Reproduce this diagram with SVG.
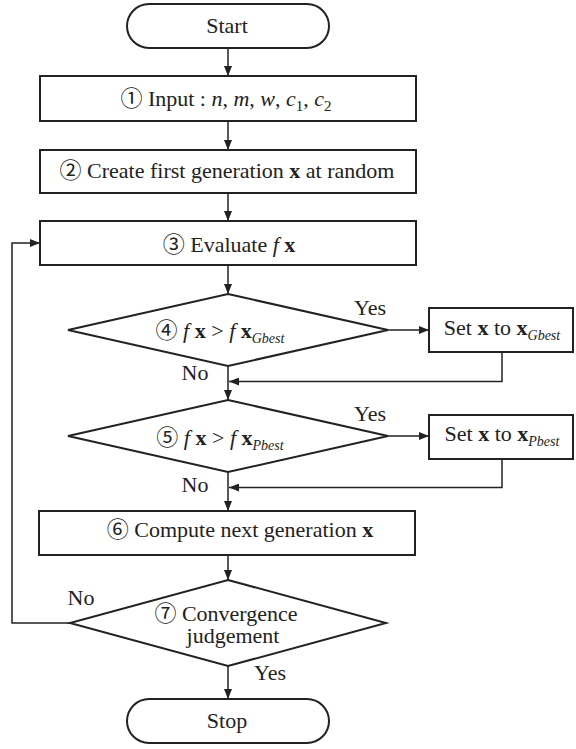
<svg xmlns="http://www.w3.org/2000/svg" width="576" height="749" viewBox="0 0 576 749" font-family="'Liberation Serif', 'Times New Roman', 'Noto Sans CJK JP', serif">
<defs>
<marker id="ah" viewBox="0 0 10 8" refX="10" refY="4" markerWidth="10" markerHeight="8" markerUnits="userSpaceOnUse" orient="auto">
<path d="M0,0 L10,4 L0,8 Z" fill="#222"/>
</marker>
</defs>
<style>
.s{fill:#fff;stroke:#222;stroke-width:2}
.c{fill:none;stroke:#222;stroke-width:1.5}
text{font-family:'Liberation Serif','Times New Roman','Noto Sans CJK JP',serif;font-size:22px;fill:#222;text-anchor:middle}
.i{font-style:italic}
.b{font-weight:bold}
.sub{font-size:15px}
.sub2{font-size:14px;font-style:italic}
</style>
<rect width="576" height="749" fill="#fff"/>
<g id="connectors">
<path class="c" d="M228,48 V76" marker-end="url(#ah)"/>
<path class="c" d="M228,121 V150" marker-end="url(#ah)"/>
<path class="c" d="M228,193 V221" marker-end="url(#ah)"/>
<path class="c" d="M228,265 V294" marker-end="url(#ah)"/>
<path class="c" d="M388,330 H429" marker-end="url(#ah)"/>
<path class="c" d="M502,352 V381.5 H229" marker-end="url(#ah)"/>
<path class="c" d="M228,366 V400" marker-end="url(#ah)"/>
<path class="c" d="M388,436 H429" marker-end="url(#ah)"/>
<path class="c" d="M502,459 V487.5 H229" marker-end="url(#ah)"/>
<path class="c" d="M228,472 V511" marker-end="url(#ah)"/>
<path class="c" d="M228,555 V580" marker-end="url(#ah)"/>
<path class="c" d="M228,666 V699" marker-end="url(#ah)"/>
<path class="c" d="M70,623 H12 V243 H40" marker-end="url(#ah)"/>
</g>
<g id="start">
<rect class="s" x="127" y="4" width="202" height="44" rx="22" ry="22"/>
<text x="227" y="33">Start</text>
</g>
<g id="input">
<rect class="s" x="40" y="76" width="376" height="45"/>
<text x="226" y="106">① Input : <tspan class="i">n</tspan>, <tspan class="i">m</tspan>, <tspan class="i">w</tspan>, <tspan class="i">c</tspan><tspan class="sub" dy="5">1</tspan><tspan dy="-5">, </tspan><tspan class="i">c</tspan><tspan class="sub" dy="5">2</tspan></text>
</g>
<g id="create">
<rect class="s" x="40" y="150" width="376" height="43"/>
<text x="227" y="178">② Create first generation <tspan class="b">x</tspan> at random</text>
</g>
<g id="evaluate">
<rect class="s" x="40" y="221" width="376" height="44"/>
<text x="229" y="252">③ Evaluate <tspan class="i">f</tspan> <tspan class="b">x</tspan></text>
</g>
<g id="decision4">
<polygon class="s" points="228,294 388,330 228,366 68,330"/>
<text x="220" y="338">④ <tspan class="i">f</tspan> <tspan class="b">x</tspan> &gt; <tspan class="i">f</tspan> <tspan class="b">x</tspan><tspan class="sub2" dy="5">Gbest</tspan></text>
<text x="370" y="315">Yes</text>
<text x="195" y="380">No</text>
</g>
<g id="setgbest">
<rect class="s" x="429" y="308" width="144" height="44"/>
<text x="502" y="335">Set <tspan class="b">x</tspan> to <tspan class="b">x</tspan><tspan class="sub2" dy="5">Gbest</tspan></text>
</g>
<g id="decision5">
<polygon class="s" points="228,400 388,436 228,472 68,436"/>
<text x="220" y="445">⑤ <tspan class="i">f</tspan> <tspan class="b">x</tspan> &gt; <tspan class="i">f</tspan> <tspan class="b">x</tspan><tspan class="sub2" dy="5">Pbest</tspan></text>
<text x="370" y="421">Yes</text>
<text x="195" y="492">No</text>
</g>
<g id="setpbest">
<rect class="s" x="429" y="415" width="144" height="44"/>
<text x="502" y="441">Set <tspan class="b">x</tspan> to <tspan class="b">x</tspan><tspan class="sub2" dy="5">Pbest</tspan></text>
</g>
<g id="compute">
<rect class="s" x="39" y="511" width="376" height="44"/>
<text x="240" y="537">⑥ Compute next generation <tspan class="b">x</tspan></text>
</g>
<g id="decision7">
<polygon class="s" points="228,580 386,623 228,666 70,623"/>
<text x="226" y="621">⑦ Convergence</text>
<text x="233" y="643">judgement</text>
<text x="81" y="605">No</text>
<text x="270" y="680">Yes</text>
</g>
<g id="stop">
<rect class="s" x="127" y="699" width="202" height="44" rx="22" ry="22"/>
<text x="227" y="728">Stop</text>
</g>
</svg>
